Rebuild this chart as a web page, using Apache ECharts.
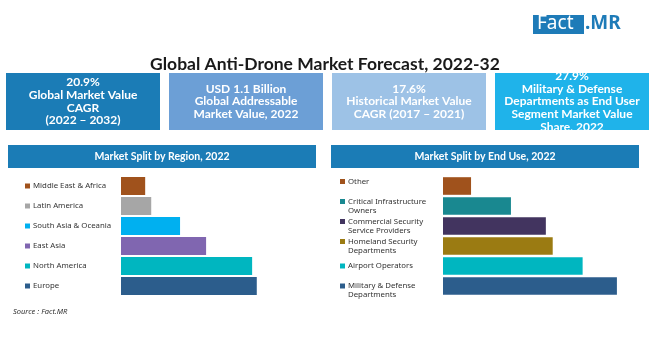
<!DOCTYPE html>
<html lang="en">
<head>
  <meta http-equiv="Content-Type" content="text/html; charset=UTF-8">
  <title>Global Anti-Drone Market Forecast</title>
  <style>
    html, body {
      padding: 0;
      margin: 0;
      background: #fff;
    }
    #myChart {
      width: 650px;
      height: 350px;
    }
  </style>
</head>
<body>
  <div id="myChart"></div>
  <script src="https://cdn.jsdelivr.net/npm/echarts@6/dist/echarts.min.js"></script>
  <script>
    const myChart = echarts.init(document.getElementById('myChart'));

    // data
    const regions = ['Middle East & Africa', 'Latin America', 'South Asia & Oceania', 'East Asia', 'North America', 'Europe'];
    const regionShare = [5.2, 6.5, 12.7, 18.3, 28.2, 29.2];
    const regionColors = ['#a0521c', '#a6a6a6', '#00b0f0', '#8066b0', '#00b6c0', '#2c5d8c'];

    const endUses = ['Other', 'Critical Infrastructure\nOwners', 'Commercial Security\nService Providers',
      'Homeland Security\nDepartments', 'Airport Operators', 'Military & Defense\nDepartments'];
    const endUseShare = [4.5, 10.9, 16.5, 17.6, 22.4, 27.9];
    const endUseColors = ['#a0521c', '#198890', '#42345f', '#9b7b12', '#00b6c0', '#2c5d8c'];

    const kpiTexts = [
      '20.9%\nGlobal Market Value\nCAGR\n(2022 – 2032)',
      'USD 1.1 Billion\nGlobal Addressable\nMarket Value, 2022',
      '17.6%\nHistorical Market Value\nCAGR (2017 – 2021)',
      '27.9%\nMilitary & Defense\nDepartments as End User\nSegment Market Value\nShare, 2022'
    ];
    const kpiColors = ['#1b7cb6', '#6c9fd6', '#9dc2e6', '#1fb3ea'];

    const boxFont = 'Lato, "Noto Sans", sans-serif';
    const labelFont = '"Noto Sans", sans-serif';

    // rich text for the little square before each category
    function labelRich(colors) {
      const rich = {
        t: { fontSize: 7.8, color: '#333', fontFamily: labelFont, lineHeight: 9 },
        g: { width: 3, height: 5, fontSize: 7.8, lineHeight: 9 },
        ind: { width: 8, height: 5, fontSize: 7.8, lineHeight: 9 }
      };
      colors.forEach((c, i) => {
        rich['s' + i] = { width: 5, height: 5, backgroundColor: c, fontSize: 7.8, lineHeight: 9 };
      });
      return rich;
    }
    // shift: optional per-category nudge, 'up' adds a blank line below, 'down' one above
    function labelFmt(names, shift) {
      return (value) => {
        const i = names.indexOf(value);
        let s = value.split('\n')
          .map((l, k) => (k === 0 ? '{s' + i + '|}{g|}' : '{ind|}') + '{t|' + l + '}')
          .join('\n');
        if (shift && shift[i] === 'up') s = s + '\n{t| }';
        if (shift && shift[i] === 'down') s = '{t| }\n' + s;
        return s;
      };
    }

    const graphics = [];
    // logo
    graphics.push({
      type: 'rect', left: 533, top: 15, shape: { width: 51, height: 19 },
      style: { fill: '#1e7bb8' }
    }, {
      type: 'text', left: 537, top: 14,
      style: { text: 'Fact', fill: '#fff', font: '19px ' + labelFont }
    }, {
      type: 'text', left: 585, top: 14,
      style: { text: '.MR', fill: '#1e7bb8', font: 'bold 19px ' + labelFont }
    });
    // kpi boxes
    kpiTexts.forEach((txt, i) => {
      const x = 6 + i * 163;
      graphics.push({
        type: 'rect', left: x, top: 73, shape: { width: 154, height: 57 },
        style: { fill: kpiColors[i] }
      }, {
        type: 'text', x: x + 77, y: 101.5,
        style: {
          text: txt, fill: '#fff', font: 'bold 12px ' + boxFont,
          align: 'center', verticalAlign: 'middle', lineHeight: 12.7
        }
      });
    });
    // panel headers
    [['Market Split by Region, 2022', 8], ['Market Split by End Use, 2022', 331]].forEach(([t, x]) => {
      graphics.push({
        type: 'rect', left: x, top: 145, shape: { width: 308, height: 23 },
        style: { fill: '#1b7cb6' }
      }, {
        type: 'text', x: x + 154, y: 156.5,
        style: { text: t, fill: '#fff', font: 'bold 10.5px ' + boxFont, align: 'center', verticalAlign: 'middle' }
      });
    });
    graphics.push({
      type: 'text', left: 13, top: 308,
      style: { text: 'Source : Fact.MR', fill: '#333', font: 'italic 7.5px ' + labelFont }
    });

    const option = {
      backgroundColor: '#fff',
      animation: false,
      title: {
        text: 'Global Anti-Drone Market Forecast, 2022-32',
        left: 'center',
        top: 50,
        textStyle: { fontFamily: boxFont, fontWeight: 'bold', fontSize: 17.5, color: '#1a1a1a' }
      },
      graphic: graphics,
      grid: [
        { left: 121, top: 176, width: 186, height: 120 },
        { left: 443, top: 176, width: 187, height: 120 }
      ],
      xAxis: [
        { gridIndex: 0, type: 'value', min: 0, max: 40, show: false },
        { gridIndex: 1, type: 'value', min: 0, max: 30, show: false }
      ],
      yAxis: [
        {
          gridIndex: 0, type: 'category', inverse: true, data: regions,
          axisLine: { show: false }, axisTick: { show: false },
          axisLabel: { interval: 0, align: 'left', margin: 96, formatter: labelFmt(regions), rich: labelRich(regionColors) }
        },
        {
          gridIndex: 1, type: 'category', inverse: true, data: endUses,
          axisLine: { show: false }, axisTick: { show: false },
          axisLabel: {
            interval: 0, align: 'left', margin: 103, hideOverlap: false,
            formatter: labelFmt(endUses, { 0: 'up', 5: 'down' }),
            rich: labelRich(endUseColors)
          }
        }
      ],
      series: [
        {
          type: 'bar', xAxisIndex: 0, yAxisIndex: 0, barCategoryGap: '10%',
          data: regionShare.map((v, i) => ({ value: v, itemStyle: { color: regionColors[i] } }))
        },
        {
          type: 'bar', xAxisIndex: 1, yAxisIndex: 1, barCategoryGap: '12%',
          data: endUseShare.map((v, i) => ({ value: v, itemStyle: { color: endUseColors[i] } }))
        }
      ]
    };
    myChart.setOption(option);
  </script>
</body>
</html>
